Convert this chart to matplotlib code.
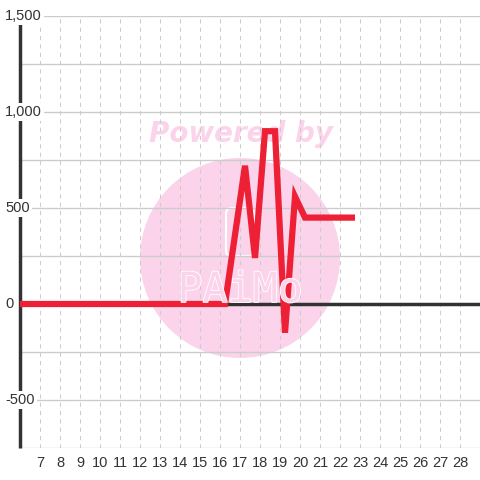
import matplotlib
matplotlib.use("Agg")
import matplotlib.pyplot as plt
import matplotlib.transforms as mtransforms
from matplotlib.patches import Circle, FancyBboxPatch
import matplotlib.patheffects as pe

# series
x_vals = [6.0, 16.25, 17.25, 17.75, 18.25, 18.75, 19.25, 19.75, 20.25, 22.75]
y_vals = [0, 0, 720, 240, 900, 900, -150, 560, 450, 450]

x_ticks = list(range(7, 29))
y_ticks = [-500, 0, 500, 1000, 1500]
y_tick_labels = ["-500", "0", "500", "1,000", "1,500"]
y_grid = [-750, -500, -250, 0, 250, 500, 750, 1000, 1250, 1500]

plt.rcParams['font.family'] = ['Liberation Sans', 'DejaVu Sans']

fig = plt.figure(figsize=(4.8, 4.8), dpi=100)
fig.patch.set_facecolor('white')
ax = fig.add_axes([20 / 480, 32 / 480, 460 / 480, 432 / 480])
ax.set_facecolor('none')

ax.set_xlim(6, 29)
ax.set_ylim(-750, 1500)

# watermark (drawn under the grid)
pink = '#fbd4eb'
ax.add_artist(Circle((240 / 480, 1 - 258 / 480), 100 / 480, transform=fig.transFigure,
                     facecolor=pink, edgecolor='none', zorder=0.1))
ax.add_artist(FancyBboxPatch((226 / 480, 1 - 256 / 480), 28 / 480, 48 / 480,
                             boxstyle='round,pad=0,rounding_size=0.012',
                             transform=fig.transFigure, facecolor='none',
                             edgecolor='white', linewidth=1.5, zorder=0.2))
fig.text(240 / 480, 1 - 290 / 480, 'PAiMo', family='DejaVu Sans Mono', fontsize=30,
         color=pink, ha='center', va='center', zorder=0.2,
         path_effects=[pe.Stroke(linewidth=1.2, foreground='white'), pe.Normal()])
ax.text(241 / 480, 1 - 134 / 480, 'Powered by', transform=fig.transFigure,
        family='DejaVu Sans', fontsize=20, fontweight='bold', fontstyle='italic',
        color=pink, ha='center', va='center', zorder=0.2)

# grid
for g in y_grid:
    ax.axhline(g, color='#cccccc', linewidth=1, zorder=0.5)
for t in x_ticks:
    ax.axvline(t, color='#cccccc', linewidth=0.75, linestyle=(0, (4, 4)), zorder=0.5)

# axis lines
ax.axhline(0, color='#333333', linewidth=2.5, zorder=3)
ax.plot([6, 6], [-750, 1460], color='#333333', linewidth=2.5, zorder=3,
        clip_on=False, solid_capstyle='butt')

for s in ax.spines.values():
    s.set_visible(False)

# data
ax.plot(x_vals, y_vals, color='#ee2035', linewidth=4.5, zorder=4,
        solid_joinstyle='miter', solid_capstyle='butt', clip_on=False)

# ticks
ax.set_xticks(x_ticks)
ax.set_xticklabels([str(t) for t in x_ticks])
ax.tick_params(axis='x', length=0, pad=6, labelsize=10.5, labelcolor='#333333')
ax.set_yticks([])
ylab_tf = mtransforms.blended_transform_factory(fig.transFigure, ax.transData)
for v, lab in zip(y_ticks, y_tick_labels):
    ax.text(5 / 480, v, lab, transform=ylab_tf, fontsize=10.5,
            color='#333333', ha='left', va='center', zorder=5, clip_on=False,
            bbox=dict(facecolor='white', edgecolor='none', pad=1.5))

fig.savefig('out.png', dpi=100, facecolor='white')
